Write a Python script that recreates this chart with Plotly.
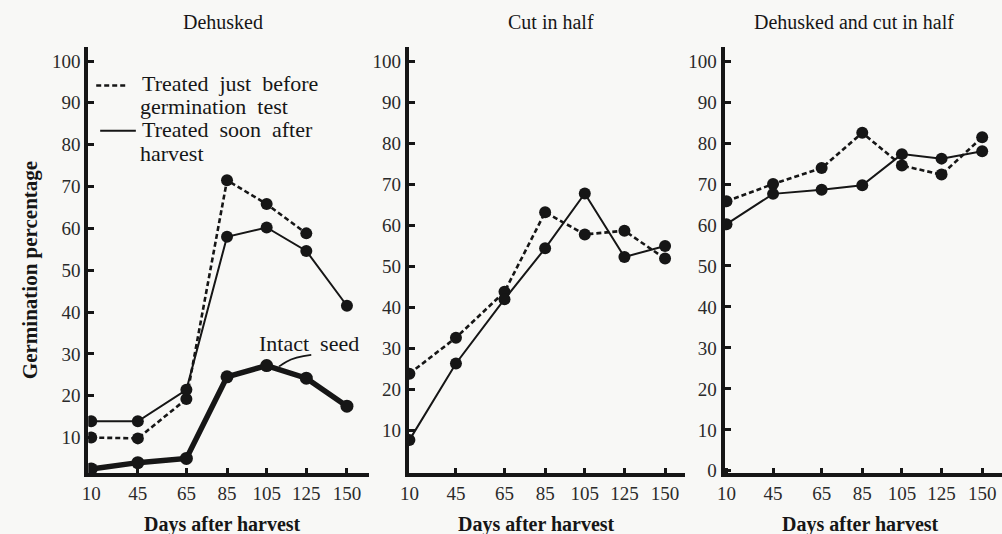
import plotly.graph_objects as go

# ---------------- data ----------------
days = [10, 45, 65, 85, 105, 125, 150]
day_labels = ["10", "45", "65", "85", "105", "125", "150"]
# drawn position of each day category along the (hand-drawn) x scale
day_pos = [0, 47, 96, 137, 177, 217, 258]

panel_titles = ["Dehusked", "Cut in half", "Dehusked and cut in half"]

# Dehusked
dehusked_before = [10, 9.8, 19.2, 71.5, 65.8, 58.8]          # 10..125
dehusked_soon = [13.9, 13.9, 21.4, 58.0, 60.2, 54.6, 41.5]   # 10..150
intact_seed = [2.5, 4.0, 5.0, 24.5, 27.2, 24.2, 17.5]       # 10..150

# Cut in half
cut_before = [23.8, 32.6, 43.8, 63.2, 57.8, 58.7, 51.9]
cut_soon = [7.6, 26.3, 42.0, 54.4, 67.8, 52.3, 55.0]

# Dehusked and cut in half
both_before = [65.8, 70.0, 73.9, 82.5, 74.5, 72.3, 81.4]
both_soon = [60.2, 67.6, 68.6, 69.7, 77.3, 76.2, 78.0]

y_ticks_12 = [10, 20, 30, 40, 50, 60, 70, 80, 90, 100]
y_ticks_3 = [0, 10, 20, 30, 40, 50, 60, 70, 80, 90, 100]

# ---------------- layout helpers ----------------
W, H = 1002, 534
FONT = "Liberation Serif"
INK = "#161616"


def px(x, y):
    return x / W, 1 - y / H


pos_of = dict(zip(days, day_pos))


def xs(n):
    return [pos_of[d] for d in days[:n]]


fig = go.Figure()


def add_series(vals, axis, style):
    xa, ya = axis
    if style == "dash":
        line = dict(color=INK, width=2.6, dash="5px,3px")
        msize = 12
    elif style == "solid":
        line = dict(color=INK, width=2.0)
        msize = 12
    else:
        line = dict(color=INK, width=5.5)
        msize = 13
    fig.add_trace(go.Scatter(
        x=xs(len(vals)), y=vals, mode="lines+markers",
        line=line, marker=dict(size=msize, color=INK),
        xaxis=xa, yaxis=ya, showlegend=False, hoverinfo="skip"))


add_series(intact_seed, ("x", "y"), "thick")
add_series(dehusked_before, ("x", "y"), "dash")
add_series(dehusked_soon, ("x", "y"), "solid")
add_series(cut_before, ("x2", "y2"), "dash")
add_series(cut_soon, ("x2", "y2"), "solid")
add_series(both_before, ("x3", "y3"), "dash")
add_series(both_soon, ("x3", "y3"), "solid")

ydom = [1 - 481 / H, 1 - 48 / H]
panels = [
    dict(xd=[80, 363], xr=[-3, 280], yr=[1.55, 103.3], yt=y_ticks_12),
    dict(xd=[403.5, 682.5], xr=[-0.5, 278.5], yr=[-0.4, 103.5], yt=y_ticks_12),
    dict(xd=[722, 1002], xr=[-2, 278], yr=[-0.5, 103.4], yt=y_ticks_3),
]

tickfont = dict(family=FONT, size=19, color="#2a2a2a")
for i, p in enumerate(panels):
    sx = "" if i == 0 else str(i + 1)
    fig.layout["xaxis" + sx] = dict(
        domain=[p["xd"][0] / W, p["xd"][1] / W], range=p["xr"],
        anchor="y" + sx, tickmode="array", tickvals=day_pos, ticktext=day_labels,
        ticks="inside", ticklen=5, tickwidth=3, tickcolor=INK,
        showline=True, linewidth=4, linecolor=INK,
        showgrid=False, zeroline=False, tickfont=tickfont, fixedrange=True)
    fig.layout["yaxis" + sx] = dict(
        domain=ydom, range=p["yr"], anchor="x" + sx,
        tickmode="array", tickvals=p["yt"], ticktext=[str(v) for v in p["yt"]],
        ticks="inside", ticklen=6, tickwidth=3, tickcolor=INK,
        showline=True, linewidth=4, linecolor=INK,
        showgrid=False, zeroline=False, tickfont=tickfont, fixedrange=True)

annotations = []


def text_at(x, y, s, size, bold=False, anchor="center", angle=0, yanchor="middle"):
    xx, yy = px(x, y)
    t = "<b>%s</b>" % s if bold else s
    annotations.append(dict(
        x=xx, y=yy, xref="paper", yref="paper", text=t, showarrow=False,
        xanchor=anchor, yanchor=yanchor, textangle=angle, borderpad=0,
        font=dict(family=FONT, size=size, color=INK)))


# panel titles
for cx, t in zip([216, 547, 853], panel_titles):
    text_at(cx, 22, t, 20)

# x-axis titles
for cx in [215, 532, 859]:
    text_at(cx, 546, "Days after harvest", 20, bold=True, yanchor="bottom")

# y-axis title
text_at(22, 275, "Germination percentage", 21, bold=True, angle=-90)

# legend texts
text_at(133, 85, "Treated  just  before", 22, anchor="left")
text_at(131, 108, "germination  test", 22, anchor="left")
text_at(133, 132, "Treated  soon  after", 22, anchor="left")
text_at(131, 156, "harvest", 22, anchor="left")
text_at(251, 349, "Intact  seed", 22, anchor="left")

fig.update_layout(annotations=annotations)

shapes = []
x0, y0 = px(88, 87)
x1, y1 = px(120, 87)
shapes.append(dict(type="line", xref="paper", yref="paper", x0=x0, y0=y0, x1=x1, y1=y1,
                   line=dict(color=INK, width=2.6, dash="5px,3px")))
x0, y0 = px(92, 133)
x1, y1 = px(128, 133)
shapes.append(dict(type="line", xref="paper", yref="paper", x0=x0, y0=y0, x1=x1, y1=y1,
                   line=dict(color=INK, width=2.2)))
# leader line for "Intact seed"
a = px(305, 361)
b = px(288, 363)
c = px(280, 368)
d = px(272, 373)
shapes.append(dict(type="path", xref="paper", yref="paper",
                   path="M %f,%f Q %f,%f %f,%f T %f,%f" % (a[0], a[1], b[0], b[1], c[0], c[1], d[0], d[1]),
                   line=dict(color=INK, width=1.8)))
fig.update_layout(shapes=shapes)

fig.update_layout(
    width=W, height=H, margin=dict(l=0, r=0, t=0, b=0),
    paper_bgcolor="#f8f8f6", plot_bgcolor="rgba(0,0,0,0)",
    showlegend=False)

fig.write_html("out.html", config={"displayModeBar": False})
